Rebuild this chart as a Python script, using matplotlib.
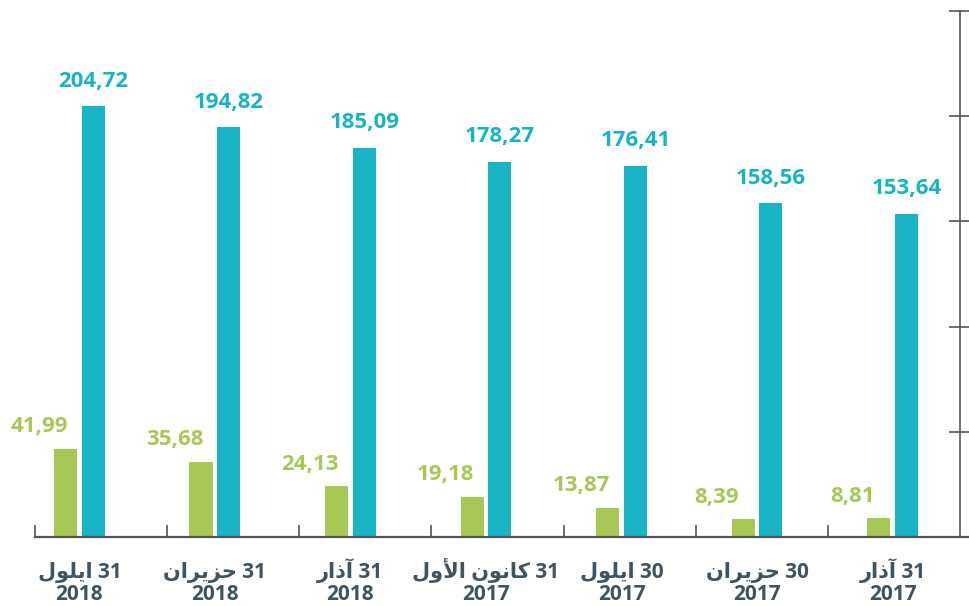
import matplotlib
matplotlib.use('Agg')
import matplotlib.pyplot as plt
import numpy as np

# values per reporting date (newest on the left)
green_values = [41.99, 35.68, 24.13, 19.18, 13.87, 8.39, 8.81]
blue_values = [204.72, 194.82, 185.09, 178.27, 176.41, 158.56, 153.64]

# Arabic month names, pre-shaped (presentation forms, visual order) since
# matplotlib has no complex text layout
SEP = '\uFEDD\uFEEE\uFEE0\uFEF3\uFE8D'            # ايلول
JUN = '\uFEE5\uFE8D\uFEAE\uFEF3\uFEB0\uFEA3'      # حزيران
MAR = '\uFEAD\uFE8D\uFEAB\uFE81'                  # آذار
DEC = '\uFEDD\uFEED\uFEF7\uFE8D \uFEE5\uFEEE\uFEE7\uFE8E\uFEDB'  # كانون الأول
day_labels = [SEP + ' 31', JUN + ' 31', MAR + ' 31', DEC + ' 31',
              SEP + ' 30', JUN + ' 30', MAR + ' 31']
year_labels = ['2018', '2018', '2018', '2017', '2017', '2017', '2017']

GREEN = '#a8c856'
BLUE = '#19b3c6'
TEXT = '#3e5461'
AXIS = '#555555'
FAM = ['Open Sans', 'DejaVu Sans']

fig = plt.figure(figsize=(9.7, 6.06), dpi=100)
ax = fig.add_axes([35 / 970, 69 / 606, 925 / 970, 526 / 606])

x = np.arange(len(blue_values))
w = 0.17
off = 0.103
ax.bar(x - off, green_values, width=w, color=GREEN, zorder=2)
ax.bar(x + off, blue_values, width=w, color=BLUE, zorder=2)

xlo, xhi = -0.328, 6.498
ax.set_xlim(xlo, xhi)
ax.set_ylim(0, 250)

for xi, g, b in zip(x, green_values, blue_values):
    ax.annotate(f"{b:.2f}".replace('.', ','), (xi + off, b), xytext=(0, 14),
                textcoords='offset points', ha='center', va='baseline',
                color=BLUE, fontsize=16, fontweight='bold', family=FAM)
    ax.annotate(f"{g:.2f}".replace('.', ','), (xi - off, g), xytext=(-19, 12),
                textcoords='offset points', ha='center', va='baseline',
                color=GREEN, fontsize=16, fontweight='bold', family=FAM)

trans = ax.get_xaxis_transform()
for xi, d, yr in zip(x, day_labels, year_labels):
    ax.text(xi, -0.078, d, transform=trans, ha='center', va='baseline',
            color=TEXT, fontsize=15, fontweight='bold', family=FAM)
    ax.text(xi, -0.12, yr, transform=trans, ha='center', va='baseline',
            color=TEXT, fontsize=15, fontweight='bold', family=FAM)

# spines: bottom baseline and right value axis only
for s in ['top', 'left']:
    ax.spines[s].set_visible(False)
ax.spines['bottom'].set_color(AXIS)
ax.spines['bottom'].set_linewidth(1.6)
ax.spines['right'].set_color(AXIS)
ax.spines['right'].set_linewidth(1.2)

ax.set_xticks([xlo + k * (xhi - xlo) / 7 for k in range(7)])
ax.set_xticklabels([])
ax.tick_params(axis='x', direction='in', length=9, width=1.2, color=AXIS)

ax.yaxis.tick_right()
ax.set_yticks(np.arange(0, 251, 50))
ax.set_yticklabels([])
ax.tick_params(axis='y', direction='inout', length=16, width=1.2, color=AXIS)

# baseline runs on past the right axis to the edge
ax.plot([1, 1.012], [0, 0], transform=ax.transAxes, color=AXIS, lw=1.6,
        clip_on=False)

fig.savefig('out.png', dpi=100)
